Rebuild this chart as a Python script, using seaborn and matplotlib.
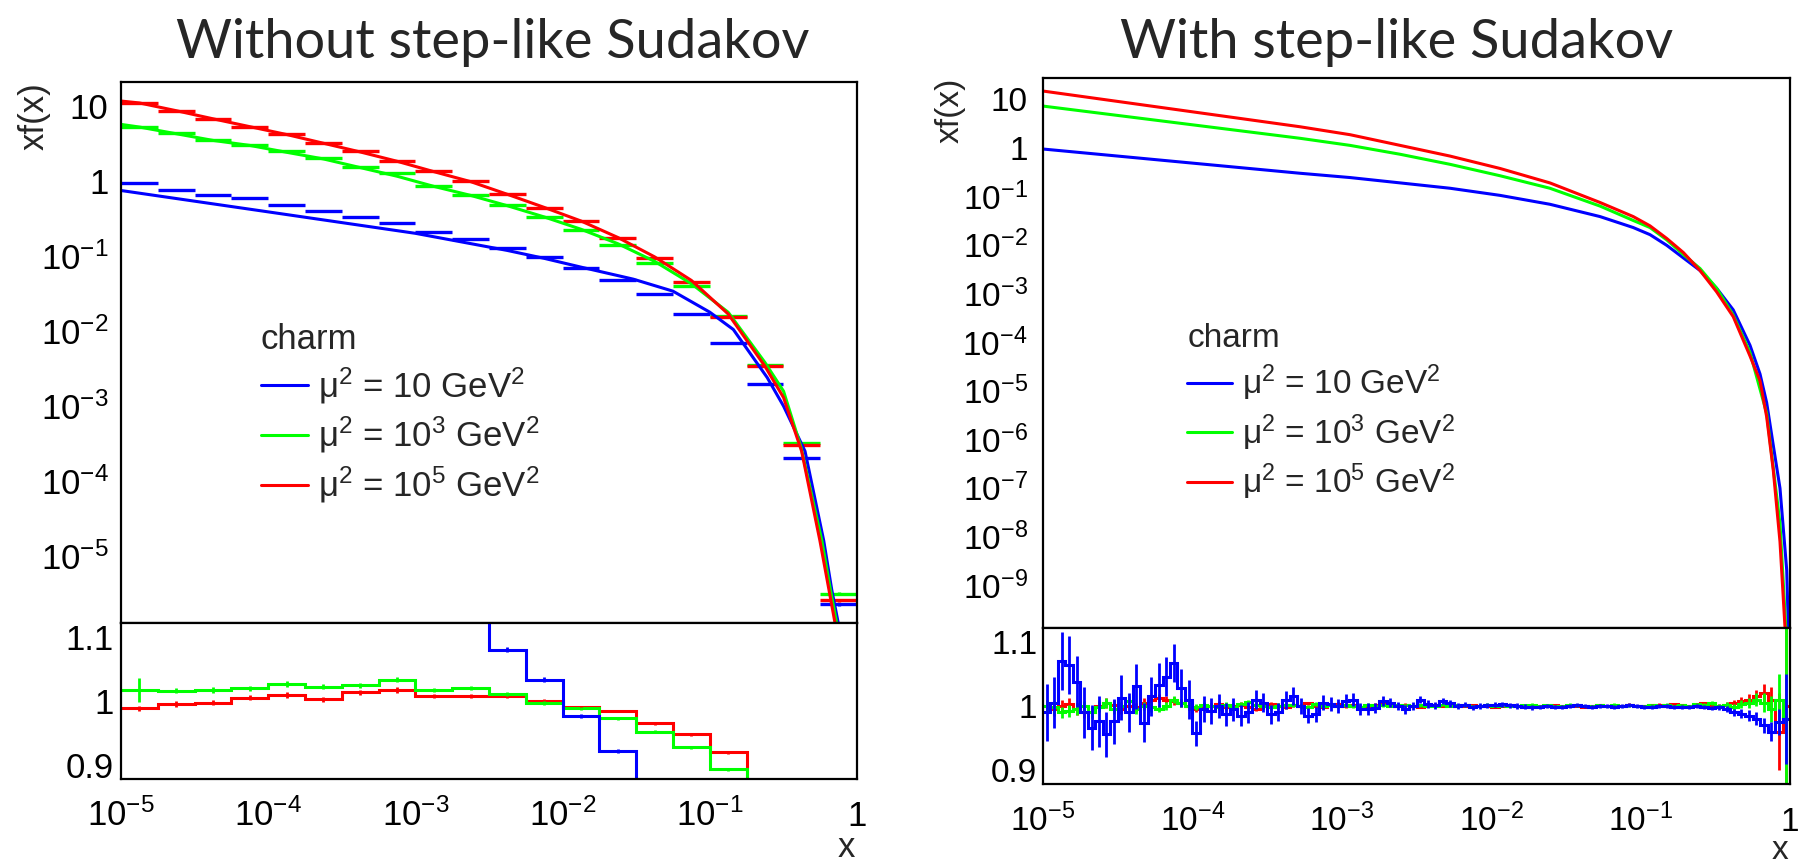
import numpy as np
import pandas as pd
import matplotlib
matplotlib.use("Agg")
import matplotlib.pyplot as plt
import seaborn as sns
from matplotlib.ticker import FixedLocator, FuncFormatter, LogLocator, NullFormatter
from matplotlib.lines import Line2D

sns.set_theme(style="white")
plt.rcParams['font.family'] = ['Liberation Sans', 'DejaVu Sans']
plt.rcParams['mathtext.fontset'] = 'custom'
plt.rcParams['mathtext.rm'] = 'Liberation Sans'
plt.rcParams['mathtext.it'] = 'Liberation Sans:italic'
plt.rcParams['mathtext.default'] = 'regular'

# ---------------- data ----------------
series_names = ["mu2_10", "mu2_1e3", "mu2_1e5"]
legend_labels = ["μ$^{2}$ = 10 GeV$^{2}$", "μ$^{2}$ = 10$^{3}$ GeV$^{2}$", "μ$^{2}$ = 10$^{5}$ GeV$^{2}$"]
colors = ["#0000ff", "#00ff00", "#ff0000"]
titles = ["Without step-like Sudakov", "With step-like Sudakov"]
legend_title = "charm"

# left panel: smooth curves (x, xf(x))
left_curve_x_blue = [1e-5, 1e-4, 1e-3, 4.217e-3, 7.499e-3, 0.01334, 0.0302, 0.0562, 0.1, 0.1445,
                     0.2455, 0.317, 0.4436, 0.5943, 0.6745, 0.7464]
left_curve_y_blue = [0.741, 0.385, 0.1995, 0.118, 0.0927, 0.0708, 0.049, 0.0339, 0.0178, 0.01047,
                     2.40e-3, 1.0e-3, 2.51e-4, 1.62e-5, 3.55e-6, 1.29e-6]
left_curve_x_green = [1e-5, 1.334e-5, 2.371e-5, 4.217e-5, 7.499e-5, 1.334e-4, 2.371e-4, 4.217e-4,
                      7.499e-4, 1.334e-3, 2.371e-3, 4.217e-3, 7.499e-3, 0.01334, 0.02371, 0.04217,
                      0.07499, 0.1334, 0.2371, 0.317, 0.417, 0.577, 0.661, 0.728]
left_curve_y_green = [5.62, 5.18, 4.22, 3.44, 2.95, 2.39, 1.95, 1.496, 1.148, 0.841, 0.638, 0.4645,
                      0.3296, 0.2259, 0.1452, 0.0845, 0.0426, 0.01774, 3.80e-3, 1.58e-3, 2.82e-4,
                      1.62e-5, 3.55e-6, 1.29e-6]
left_curve_x_red = [1e-5, 1.334e-5, 2.371e-5, 4.217e-5, 7.499e-5, 1.334e-4, 2.371e-4, 4.217e-4,
                    7.499e-4, 1.334e-3, 2.371e-3, 4.217e-3, 7.499e-3, 0.01334, 0.02371, 0.04217,
                    0.07499, 0.1334, 0.2371, 0.317, 0.4207, 0.5598, 0.6457, 0.7096]
left_curve_y_red = [11.5, 10.84, 8.55, 6.67, 5.24, 4.12, 3.155, 2.415, 1.816, 1.321, 0.973, 0.659,
                    0.4416, 0.291, 0.1758, 0.0970, 0.0471, 0.01683, 3.39e-3, 1.30e-3, 2.51e-4,
                    1.62e-5, 3.55e-6, 1.29e-6]

# left panel: binned values (20 log bins from 1e-5 to 1)
left_bins_blue = [0.93, 0.76, 0.65, 0.59, 0.48, 0.39, 0.33, 0.27, 0.21, 0.17, 0.127, 0.096,
                  0.069, 0.048, 0.031, 0.0166, 0.0070, 0.00195, 2.07e-4, 2.3e-6]
left_bins_green = [5.26, 4.29, 3.50, 3.01, 2.45, 2.0, 1.50, 1.26, 0.84, 0.65, 0.47, 0.33,
                   0.223, 0.141, 0.0805, 0.0394, 0.0158, 0.00355, 3.27e-4, 3.2e-6]
left_bins_red = [10.7, 8.5, 6.65, 5.26, 4.16, 3.16, 2.45, 1.85, 1.33, 0.98, 0.66, 0.44,
                 0.288, 0.173, 0.094, 0.0447, 0.0155, 0.00347, 3.0e-4, 2.6e-6]
left_bins_relerr = [0.02, 0.02, 0.02, 0.02, 0.02, 0.02, 0.02, 0.02, 0.02, 0.02,
                    0.02, 0.02, 0.02, 0.02, 0.02, 0.02, 0.02, 0.02, 0.03, 0.05]

# left panel: ratios
left_ratio_blue = [1.29, 1.27, 1.25, 1.24, 1.22, 1.20, 1.18, 1.16, 1.14, 1.13, 1.08, 1.033,
                   0.9766, 0.922, 0.80, 0.70, 0.60, 0.50, 0.50, 0.50]
left_ratio_green = [1.0172, 1.0161, 1.0172, 1.0198, 1.0266, 1.0224, 1.0245, 1.033, 1.0172, 1.0208,
                    1.0109, 0.9974, 0.9885, 0.9729, 0.952, 0.9276, 0.8932, 0.80, 0.70, 0.60]
left_ratio_red = [0.9885, 0.9953, 0.9974, 1.0052, 1.0094, 1.0026, 1.0135, 1.0172, 1.0078, 1.0078,
                  1.0078, 1.0005, 0.99, 0.9843, 0.965, 0.9479, 0.9198, 0.80, 0.75, 0.70]
left_ratio_err_green = [0.018, 0.004, 0.004, 0.004, 0.004, 0.004, 0.004, 0.004, 0.003, 0.003,
                        0.003, 0.003, 0.002, 0.002, 0.002, 0.002, 0.002, 0.002, 0.002, 0.002]
left_ratio_err_red = [0.004, 0.004, 0.004, 0.004, 0.004, 0.004, 0.004, 0.004, 0.003, 0.003,
                      0.003, 0.003, 0.002, 0.002, 0.002, 0.002, 0.002, 0.002, 0.002, 0.002]
left_ratio_err_blue = [0.004, 0.004, 0.004, 0.004, 0.004, 0.004, 0.004, 0.004, 0.004, 0.004,
                       0.004, 0.004, 0.003, 0.003, 0.003, 0.003, 0.003, 0.003, 0.003, 0.003]

# right panel: curves
right_curve_x_blue = [1e-5, 5.25e-4, 1.135e-3, 2.455e-3, 5.30e-3, 0.01146, 0.0247, 0.0535, 0.0893,
                      0.1156, 0.1496, 0.1932, 0.250, 0.323, 0.417, 0.540, 0.630, 0.698, 0.773,
                      0.857, 0.951, 0.975]
right_curve_y_blue = [0.933, 0.296, 0.2415, 0.1875, 0.1455, 0.1038, 0.0681, 0.0380, 0.0226,
                      0.01614, 9.73e-3, 5.37e-3, 2.95e-3, 1.27e-3, 4.57e-4, 8.51e-5, 2.19e-5,
                      5.62e-6, 7.41e-7, 9.77e-8, 2.0e-9, 1.26e-10]
right_curve_x_green = [1e-5, 5.25e-4, 1.135e-3, 2.455e-3, 5.30e-3, 0.01146, 0.0247, 0.0535, 0.0893,
                       0.1156, 0.1496, 0.1932, 0.250, 0.323, 0.417, 0.540, 0.698, 0.857, 0.938]
right_curve_y_green = [7.14, 1.552, 1.109, 0.728, 0.452, 0.263, 0.1455, 0.0625, 0.0316, 0.0226,
                       0.0126, 6.31e-3, 3.24e-3, 1.27e-3, 3.55e-4, 6.03e-5, 3.39e-6, 1.82e-8, 1.26e-10]
right_curve_x_red = [1e-5, 5.25e-4, 1.135e-3, 2.455e-3, 5.30e-3, 0.01146, 0.0247, 0.0535, 0.0893,
                     0.1156, 0.1496, 0.1932, 0.250, 0.323, 0.417, 0.540, 0.630, 0.698, 0.773,
                     0.857, 0.927]
right_curve_y_red = [14.55, 2.68, 1.84, 1.109, 0.668, 0.3715, 0.1875, 0.0741, 0.0380, 0.0245,
                     0.01349, 6.92e-3, 2.95e-3, 1.07e-3, 3.31e-4, 5.13e-5, 1.58e-5, 2.88e-6,
                     2.29e-7, 7.76e-9, 1.26e-10]

# right panel: ratios (100 log bins from 1e-5 to 1)
right_ratio_blue = [0.99, 1.005, 1.07, 1.064, 1.038, 0.99, 0.966, 0.976, 0.956, 0.976,
                    1.013, 0.99, 1.031, 0.974, 1.015, 1.033, 1.046, 1.067, 1.028, 1.01,
                    0.957, 0.995, 0.992, 1.0, 0.987, 0.995, 0.985, 0.99, 1.01, 1.005,
                    0.987, 0.99, 1.01, 1.015, 1.0, 0.985, 0.987, 1.005, 1.003, 1.0,
                    1.008, 1.01, 0.995, 0.995, 0.997, 1.008, 1.005, 1.0, 0.995, 1.0,
                    1.01, 1.003, 1.001, 1.008, 1.004, 1.0, 1.002, 0.998, 1.0, 1.001,
                    1.002, 1.003, 1.001, 1.0, 0.999, 0.998, 0.999, 1.0, 0.998, 0.999,
                    1.0, 1.001, 1.0, 0.999, 1.0, 1.0, 0.999, 1.0, 1.001, 1.0,
                    0.999, 0.998, 1.0, 1.0, 0.999, 0.998, 0.999, 1.0, 0.998, 0.997,
                    0.998, 0.995, 0.99, 0.988, 0.985, 0.98, 0.97, 0.96, 0.975, 0.98]
right_ratio_green = [1.0, 0.998, 0.99, 0.992, 0.995, 1.0, 0.99, 0.998, 1.005, 0.995,
                     1.0, 1.008, 0.995, 1.0, 0.998, 0.996, 1.0, 1.01, 1.005, 1.0,
                     0.998, 1.002, 1.0, 0.998, 1.002, 0.999, 1.003, 1.006, 1.002, 1.0,
                     0.998, 1.0, 1.002, 1.001, 1.0, 0.999, 1.003, 1.0, 1.002, 1.0,
                     1.001, 1.0, 0.999, 1.002, 1.0, 1.001, 1.0, 1.002, 1.001, 1.0,
                     1.001, 1.0, 1.0, 1.002, 1.0, 1.001, 1.001, 1.0, 1.0, 1.002,
                     1.0, 1.001, 1.0, 1.0, 1.001, 1.002, 1.0, 1.001, 1.0, 1.0,
                     1.002, 1.001, 1.0, 1.0, 1.001, 1.0, 1.002, 1.0, 1.001, 1.0,
                     1.0, 1.001, 1.0, 1.002, 1.0, 1.001, 1.0, 1.003, 1.002, 1.005,
                     1.0, 1.002, 0.998, 1.003, 1.005, 1.01, 1.005, 0.995, 1.01, 0.98]
right_ratio_red = [1.0, 0.995, 1.0, 1.003, 0.995, 0.99, 0.99, 1.0, 1.005, 1.002,
                   0.995, 1.0, 0.998, 1.005, 1.01, 1.012, 1.01, 1.008, 1.005, 1.0,
                   0.995, 1.0, 1.0, 1.003, 0.998, 1.0, 1.002, 0.998, 0.996, 1.0,
                   1.003, 1.0, 0.998, 1.002, 1.0, 1.004, 1.0, 0.998, 1.002, 1.003,
                   1.0, 1.001, 0.999, 1.0, 1.002, 1.003, 1.001, 1.0, 1.002, 1.0,
                   0.999, 1.001, 1.002, 1.0, 1.001, 1.0, 1.0, 1.001, 1.0, 1.0,
                   0.999, 1.0, 1.001, 1.0, 1.0, 0.999, 1.0, 1.0, 1.001, 1.0,
                   1.0, 1.0, 0.999, 1.0, 1.001, 1.0, 1.0, 1.0, 1.002, 1.0,
                   1.0, 1.001, 1.002, 1.0, 1.003, 1.001, 1.0, 1.002, 1.004, 1.0,
                   1.0, 1.002, 1.005, 1.008, 1.01, 1.015, 1.02, 1.01, 0.96, 1.0]
right_err_blue = [0.045, 0.04, 0.045, 0.045, 0.04, 0.04, 0.035, 0.04, 0.035, 0.035,
                  0.035, 0.03, 0.035, 0.03, 0.03, 0.035, 0.03, 0.03, 0.03, 0.03,
                  0.02, 0.02, 0.02, 0.018, 0.018, 0.018, 0.016, 0.016, 0.015, 0.015,
                  0.015, 0.014, 0.014, 0.014, 0.013, 0.012, 0.012, 0.012, 0.011, 0.011,
                  0.01, 0.01, 0.009, 0.009, 0.008, 0.008, 0.007, 0.007, 0.007, 0.006,
                  0.006, 0.006, 0.005, 0.005, 0.005, 0.005, 0.004, 0.004, 0.004, 0.004,
                  0.004, 0.004, 0.004, 0.004, 0.004, 0.004, 0.003, 0.003, 0.003, 0.003,
                  0.003, 0.003, 0.003, 0.003, 0.003, 0.003, 0.003, 0.003, 0.003, 0.003,
                  0.003, 0.003, 0.003, 0.003, 0.003, 0.003, 0.003, 0.003, 0.003, 0.003,
                  0.004, 0.005, 0.006, 0.007, 0.008, 0.01, 0.012, 0.015, 0.02, 0.07]
right_err_green = [0.01, 0.01, 0.009, 0.009, 0.009, 0.008, 0.008, 0.008, 0.008, 0.008,
                   0.007, 0.007, 0.007, 0.007, 0.007, 0.006, 0.006, 0.006, 0.006, 0.006,
                   0.005, 0.005, 0.005, 0.005, 0.005, 0.004, 0.004, 0.004, 0.004, 0.004,
                   0.004, 0.004, 0.003, 0.003, 0.003, 0.003, 0.003, 0.003, 0.003, 0.003,
                   0.003, 0.003, 0.002, 0.002, 0.002, 0.002, 0.002, 0.002, 0.002, 0.002,
                   0.002, 0.002, 0.002, 0.002, 0.002, 0.002, 0.002, 0.002, 0.002, 0.002,
                   0.002, 0.002, 0.002, 0.002, 0.002, 0.002, 0.002, 0.002, 0.002, 0.002,
                   0.002, 0.002, 0.002, 0.002, 0.002, 0.002, 0.002, 0.002, 0.002, 0.002,
                   0.002, 0.002, 0.002, 0.002, 0.002, 0.002, 0.002, 0.002, 0.003, 0.003,
                   0.003, 0.004, 0.005, 0.006, 0.008, 0.01, 0.015, 0.02, 0.04, 0.15]
right_err_red = [0.01, 0.01, 0.009, 0.009, 0.009, 0.008, 0.008, 0.008, 0.008, 0.008,
                 0.007, 0.007, 0.007, 0.007, 0.007, 0.006, 0.006, 0.006, 0.006, 0.006,
                 0.005, 0.005, 0.005, 0.005, 0.005, 0.004, 0.004, 0.004, 0.004, 0.004,
                 0.004, 0.004, 0.003, 0.003, 0.003, 0.003, 0.003, 0.003, 0.003, 0.003,
                 0.003, 0.003, 0.002, 0.002, 0.002, 0.002, 0.002, 0.002, 0.002, 0.002,
                 0.002, 0.002, 0.002, 0.002, 0.002, 0.002, 0.002, 0.002, 0.002, 0.002,
                 0.002, 0.002, 0.002, 0.002, 0.002, 0.002, 0.002, 0.002, 0.002, 0.002,
                 0.002, 0.002, 0.002, 0.002, 0.002, 0.002, 0.002, 0.002, 0.002, 0.002,
                 0.002, 0.002, 0.002, 0.002, 0.002, 0.002, 0.002, 0.002, 0.003, 0.003,
                 0.003, 0.004, 0.005, 0.006, 0.008, 0.01, 0.015, 0.02, 0.06, 0.15]

x_major = [1e-5, 1e-4, 1e-3, 1e-2, 1e-1, 1.0]

# ---------------- figure ----------------
W, H = 1799, 864
fig = plt.figure(figsize=(W / 100, H / 100), dpi=100)
fig.patch.set_facecolor("white")


def frac_axes(x0, y0, x1, y1):
    return fig.add_axes([x0 / W, 1 - y1 / H, (x1 - x0) / W, (y1 - y0) / H])


def pow_label(v, pos=None):
    e = int(round(np.log10(v)))
    if e == 0:
        return "1"
    if e == 1:
        return "10"
    return r"$10^{%d}$" % e


def style_common(ax):
    ax.set_facecolor("white")
    for s in ax.spines.values():
        s.set_visible(True)
        s.set_color("black")
        s.set_linewidth(1.6)
    ax.grid(False)
    ax.set_xscale("log")
    ax.set_xlim(1e-5, 1.0)
    ax.xaxis.set_major_locator(FixedLocator(x_major))
    ax.xaxis.set_minor_locator(LogLocator(base=10, subs=np.arange(2, 10), numticks=100))
    ax.tick_params(which="both", direction="in", top=False, right=False, colors="black")


def style_main(ax, ylo, yhi, ymaj, ytick_len, fs, pad):
    style_common(ax)
    ax.set_yscale("log")
    ax.set_ylim(ylo, yhi)
    ax.yaxis.set_major_locator(FixedLocator(ymaj))
    ax.yaxis.set_minor_locator(LogLocator(base=10, subs=np.arange(2, 10), numticks=100))
    ax.yaxis.set_major_formatter(FuncFormatter(pow_label))
    ax.yaxis.set_minor_formatter(NullFormatter())
    ax.xaxis.set_minor_formatter(NullFormatter())
    ax.tick_params(axis="y", which="major", length=ytick_len, width=1.6, labelsize=fs, pad=pad)
    ax.tick_params(axis="y", which="minor", length=ytick_len * 0.5, width=1.3)
    ax.tick_params(axis="x", which="major", length=10, width=1.6, labelbottom=False)
    ax.tick_params(axis="x", which="minor", length=5, width=1.3)


def style_ratio(ax, fs, ypad):
    style_common(ax)
    ax.set_ylim(0.878, 1.122)
    ax.yaxis.set_major_locator(FixedLocator([0.9, 1.0, 1.1]))
    ax.yaxis.set_minor_locator(FixedLocator([0.95, 1.05]))
    ax.yaxis.set_major_formatter(FuncFormatter(lambda v, p: "1" if abs(v - 1) < 1e-9 else ("%.1f" % v)))
    ax.xaxis.set_major_formatter(FuncFormatter(pow_label))
    ax.xaxis.set_minor_formatter(NullFormatter())
    ax.tick_params(axis="y", which="major", length=18, width=1.6, labelsize=fs, pad=ypad)
    ax.tick_params(axis="y", which="minor", length=9, width=1.3)
    ax.tick_params(axis="x", which="major", length=8, width=1.6, labelsize=fs, pad=34)
    ax.tick_params(axis="x", which="minor", length=4, width=1.3)
    for t in ax.xaxis.get_major_ticks():
        t.label1.set_verticalalignment("baseline")


def draw_curves(ax, xs, ys):
    for x, y, c in zip(xs, ys, colors):
        df = pd.DataFrame({"x": x, "y": y})
        sns.lineplot(data=df, x="x", y="y", ax=ax, color=c, lw=2.2, sort=False,
                     estimator=None, legend=False)
    ax.set_xlabel("")
    ax.set_ylabel("")


def draw_ratio(ax, edges, vals_list, errs_list, order):
    cents = np.sqrt(edges[:-1] * edges[1:])
    for i in order:
        v = np.asarray(vals_list[i])
        e = np.asarray(errs_list[i])
        ax.stairs(v, edges, color=colors[i], lw=2.2, baseline=None)
        ax.errorbar(cents, v, yerr=e, fmt="none", ecolor=colors[i], elinewidth=2.0, capsize=0)
    ax.set_xlabel("")
    ax.set_ylabel("")


def add_legend(ax, anchor, fs):
    handles = [Line2D([], [], color=c, lw=2.2) for c in colors]
    leg = ax.legend(handles, legend_labels, title=legend_title, loc="upper left",
                    bbox_to_anchor=anchor, frameon=False, fontsize=fs, title_fontsize=fs,
                    handlelength=1.35, handletextpad=0.3, labelspacing=0.27,
                    borderpad=0, borderaxespad=0, alignment="left")
    return leg


# ---------- left panel ----------
axL = frac_axes(121, 82, 857, 623)
axLr = frac_axes(121, 623, 857, 779)
style_main(axL, 1.3e-6, 20.6, [10.0 ** k for k in range(-5, 2)], 17, 25, 9)
style_ratio(axLr, 25, 5)

edges_L = np.logspace(-5, 0, 21)
cent_L = np.sqrt(edges_L[:-1] * edges_L[1:])
left_bins = [left_bins_blue, left_bins_green, left_bins_red]
for vals, c in zip(left_bins, colors):
    v = np.asarray(vals)
    axL.errorbar(cent_L, v, xerr=[cent_L - edges_L[:-1], edges_L[1:] - cent_L],
                 yerr=v * np.asarray(left_bins_relerr), fmt="none", ecolor=c,
                 elinewidth=2.4, capsize=0)
draw_curves(axL, [left_curve_x_blue, left_curve_x_green, left_curve_x_red],
            [left_curve_y_blue, left_curve_y_green, left_curve_y_red])
add_legend(axL, (0.19, 0.555), 25)

draw_ratio(axLr, edges_L, [left_ratio_blue, left_ratio_green, left_ratio_red],
           [left_ratio_err_blue, left_ratio_err_green, left_ratio_err_red], [2, 1, 0])

# ---------- right panel ----------
axR = frac_axes(1043, 78, 1790, 628)
axRr = frac_axes(1043, 628, 1790, 784)
style_main(axR, 1.3e-10, 27.0, [10.0 ** k for k in range(-9, 2)], 17, 24, 11)
style_ratio(axRr, 24, 4)

draw_curves(axR, [right_curve_x_blue, right_curve_x_green, right_curve_x_red],
            [right_curve_y_blue, right_curve_y_green, right_curve_y_red])
add_legend(axR, (0.193, 0.555), 24)

edges_R = np.logspace(-5, 0, 101)
draw_ratio(axRr, edges_R, [right_ratio_blue, right_ratio_green, right_ratio_red],
           [right_err_blue, right_err_green, right_err_red], [2, 1, 0])

for ax in (axL, axR, axLr, axRr):
    ax.set_xlim(1e-5, 1.0)

# ---------- titles and axis labels ----------
fig.text(493 / W, 1 - 58 / H, titles[0], ha="center", va="baseline", fontsize=39, family="Lato")
fig.text(1397 / W, 1 - 58 / H, titles[1], ha="center", va="baseline", fontsize=39, family="Lato")

fig.text(34 / W, 1 - 82 / H, "xf(x)", rotation=90, ha="center", va="top", fontsize=25)
fig.text(950 / W, 1 - 78 / H, "xf(x)", rotation=90, ha="center", va="top", fontsize=24)
fig.text(855 / W, 1 - 857 / H, "x", ha="right", va="baseline", fontsize=25)
fig.text(1788 / W, 1 - 859 / H, "x", ha="right", va="baseline", fontsize=24)

fig.savefig("out.png", dpi=100, facecolor="white")
